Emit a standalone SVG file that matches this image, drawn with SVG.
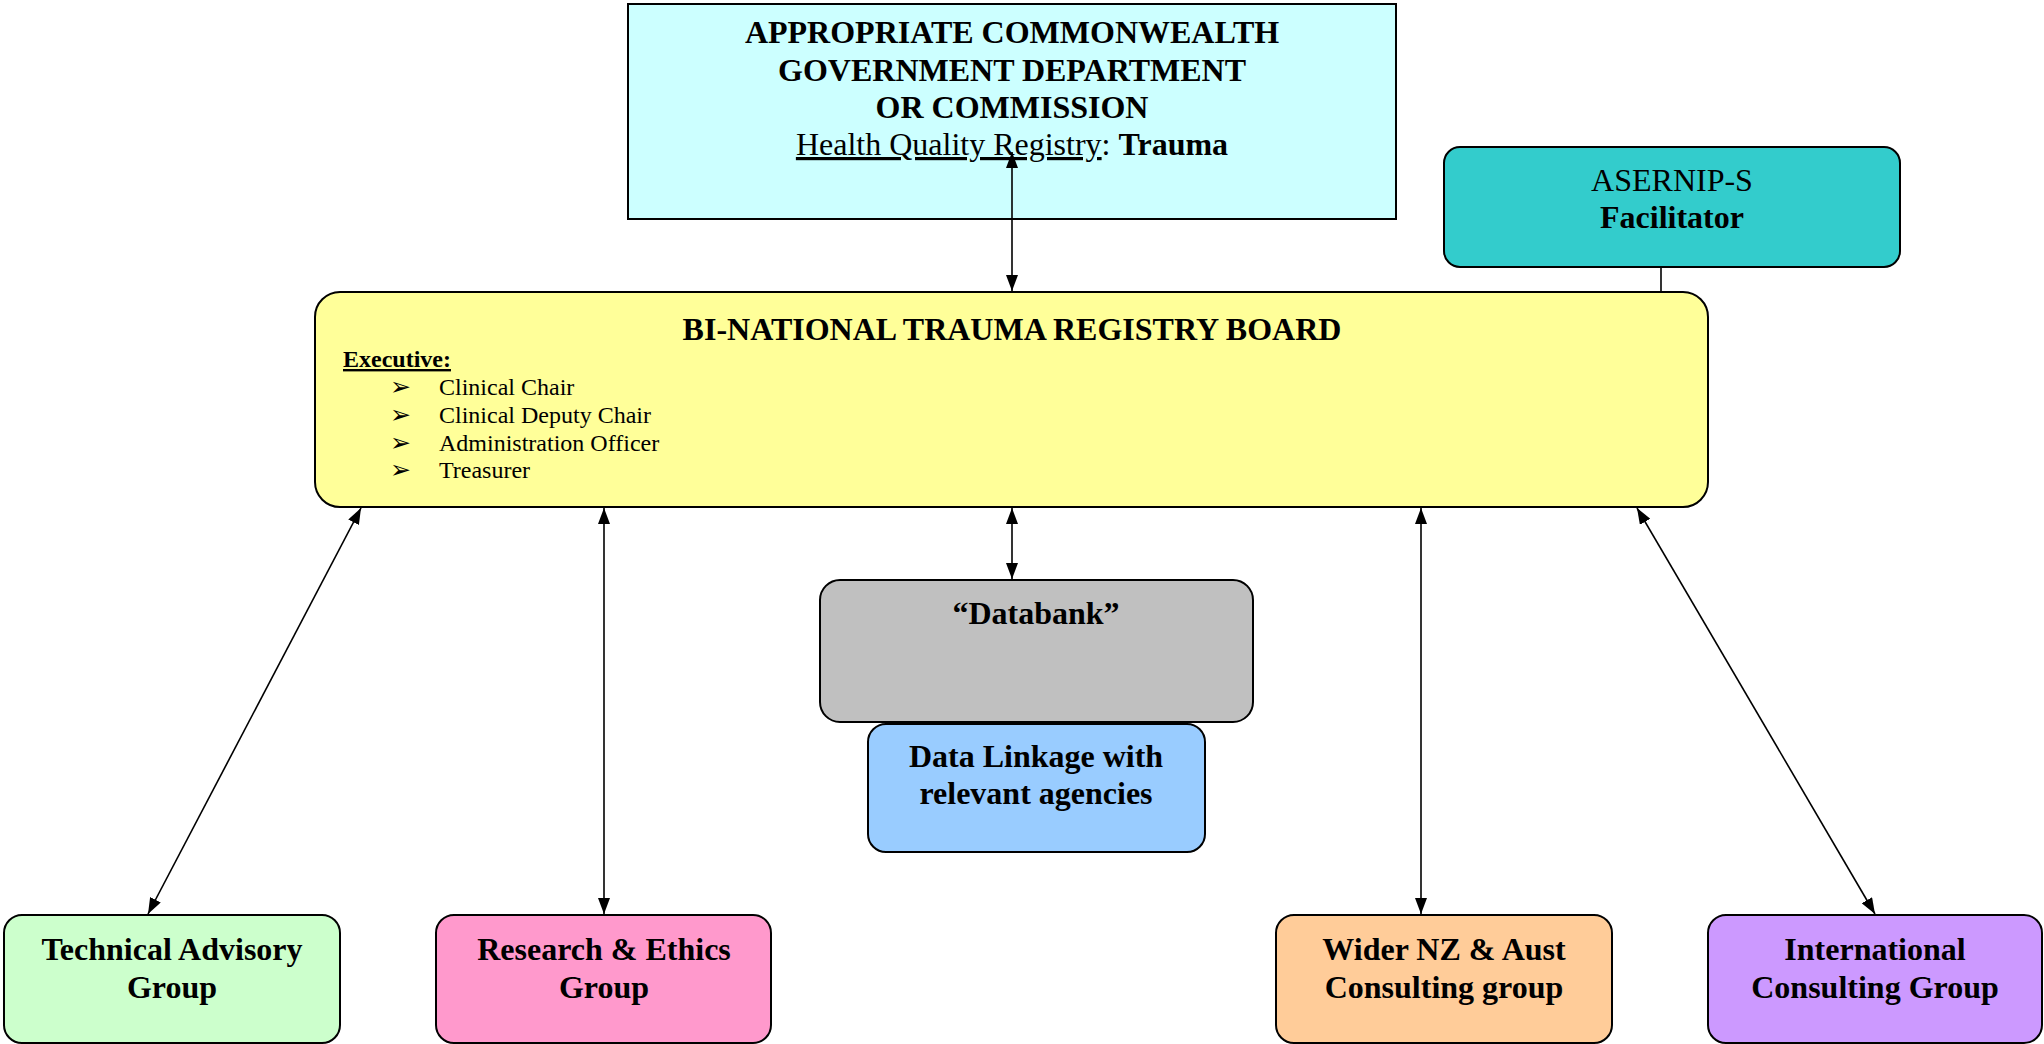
<svg xmlns="http://www.w3.org/2000/svg" width="2044" height="1044" viewBox="0 0 2044 1044">
<style>
.box{stroke:#000;stroke-width:2}
.t{font-family:"Liberation Serif","Times New Roman",serif;font-size:32px;fill:#000}
.b{font-weight:bold}
.c{text-anchor:middle}
.s{font-family:"Liberation Serif","Times New Roman",serif;font-size:24px;fill:#000}
.bul{font-family:"DejaVu Sans",sans-serif;font-size:25px;font-weight:bold;fill:#000}
.conn line{stroke:#000;stroke-width:1.6;fill:none}
</style>
<defs>
<marker id="ah" markerUnits="userSpaceOnUse" markerWidth="16" markerHeight="12" refX="16" refY="6" orient="auto-start-reverse" viewBox="0 0 16 12">
<path d="M0,0 L16,6 L0,12 z" fill="#000"/>
</marker>
</defs>
<rect width="2044" height="1044" fill="#fff"/>

<g id="commonwealth">
<rect class="box" x="628" y="4" width="768" height="215" fill="#CCFFFF"/>
<text class="t b c" x="1012" y="43">APPROPRIATE COMMONWEALTH</text>
<text class="t b c" x="1012" y="81">GOVERNMENT DEPARTMENT</text>
<text class="t b c" x="1012" y="118">OR COMMISSION</text>
<text class="t c" x="1012" y="155"><tspan text-decoration="underline">Health Quality Registry</tspan>: <tspan class="b">Trauma</tspan></text>
</g>

<g id="asernip">
<rect class="box" x="1444" y="147" width="456" height="120" rx="16" fill="#33CCCC"/>
<text class="t c" x="1672" y="191">ASERNIP-S</text>
<text class="t b c" x="1672" y="228">Facilitator</text>
</g>

<g id="board">
<rect class="box" x="315" y="292" width="1393" height="215" rx="25" fill="#FFFF99"/>
<text class="t b c" x="1012" y="340">BI-NATIONAL TRAUMA REGISTRY BOARD</text>
<text class="s b" x="343" y="367" text-decoration="underline">Executive:</text>
<text class="bul" x="390" y="395">➢</text>
<text class="s" x="439" y="395">Clinical Chair</text>
<text class="bul" x="390" y="423">➢</text>
<text class="s" x="439" y="423">Clinical Deputy Chair</text>
<text class="bul" x="390" y="451">➢</text>
<text class="s" x="439" y="451">Administration Officer</text>
<text class="bul" x="390" y="478">➢</text>
<text class="s" x="439" y="478">Treasurer</text>
</g>

<g id="databank">
<rect class="box" x="820" y="580" width="433" height="142" rx="20" fill="#C0C0C0"/>
<text class="t b c" x="1036" y="624">“Databank”</text>
</g>

<g id="datalinkage">
<rect class="box" x="868" y="724" width="337" height="128" rx="18" fill="#99CCFF"/>
<text class="t b c" x="1036" y="767">Data Linkage with</text>
<text class="t b c" x="1036" y="804">relevant agencies</text>
</g>

<g id="technical">
<rect class="box" x="4" y="915" width="336" height="128" rx="18" fill="#CCFFCC"/>
<text class="t b c" x="172" y="960">Technical Advisory</text>
<text class="t b c" x="172" y="998">Group</text>
</g>

<g id="research">
<rect class="box" x="436" y="915" width="335" height="128" rx="18" fill="#FF99CC"/>
<text class="t b c" x="604" y="960">Research &amp; Ethics</text>
<text class="t b c" x="604" y="998">Group</text>
</g>

<g id="wider">
<rect class="box" x="1276" y="915" width="336" height="128" rx="18" fill="#FFCC99"/>
<text class="t b c" x="1444" y="960">Wider NZ &amp; Aust</text>
<text class="t b c" x="1444" y="998">Consulting group</text>
</g>

<g id="international">
<rect class="box" x="1708" y="915" width="334" height="128" rx="18" fill="#CC99FF"/>
<text class="t b c" x="1875" y="960">International</text>
<text class="t b c" x="1875" y="998">Consulting Group</text>
</g>

<g id="connectors" class="conn">
<line x1="1012" y1="152" x2="1012" y2="291" marker-start="url(#ah)" marker-end="url(#ah)"/>
<line x1="1661" y1="267" x2="1661" y2="292"/>
<line x1="1012" y1="508" x2="1012" y2="579" marker-start="url(#ah)" marker-end="url(#ah)"/>
<line x1="361" y1="508" x2="148" y2="914" marker-start="url(#ah)" marker-end="url(#ah)"/>
<line x1="604" y1="508" x2="604" y2="914" marker-start="url(#ah)" marker-end="url(#ah)"/>
<line x1="1421" y1="508" x2="1421" y2="914" marker-start="url(#ah)" marker-end="url(#ah)"/>
<line x1="1637" y1="508" x2="1875" y2="914" marker-start="url(#ah)" marker-end="url(#ah)"/>
</g>
</svg>
